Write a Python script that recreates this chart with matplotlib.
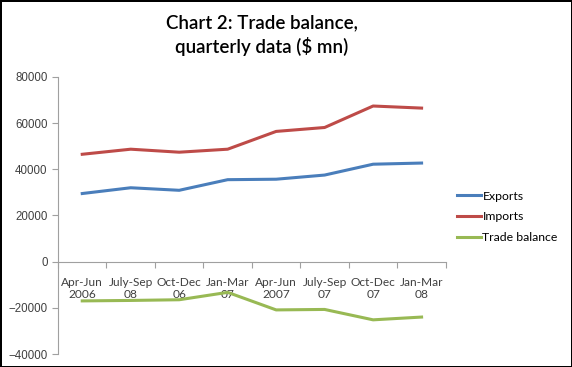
import matplotlib.pyplot as plt
import numpy as np

plt.rcParams["font.family"] = ["Lato", "DejaVu Sans"]

# 数据 (从图中读取, $ mn)
quarters = ["Apr-Jun\n2006", "July-Sep\n08", "Oct-Dec\n06", "Jan-Mar\n07",
            "Apr-Jun\n2007", "July-Sep\n07", "Oct-Dec\n07", "Jan-Mar\n08"]
exports = [29500, 32000, 30900, 35500, 35700, 37500, 42200, 42700]
imports = [46500, 48700, 47400, 48700, 56400, 58100, 67400, 66500]
trade_balance = [-17000, -16800, -16500, -13300, -20900, -20700, -25200, -24000]

fig = plt.figure(figsize=(5.72, 3.67), dpi=100)
fig.patch.set_edgecolor("black")
fig.patch.set_linewidth(2)

ax = fig.add_axes([0.1014, 0.0354, 0.678, 0.755])
x = np.arange(len(quarters))
ax.plot(x, exports, color="#4A7EBB", lw=2.2, label="Exports")
ax.plot(x, imports, color="#BE4B48", lw=2.2, label="Imports")
ax.plot(x, trade_balance, color="#98B954", lw=2.2, label="Trade balance")

ax.set_xlim(-0.5, len(quarters) - 0.5)
ax.set_ylim(-40000, 80000)
ax.set_yticks(range(-40000, 80001, 20000))

# ── 坐标轴样式 ──
for s in ["top", "right"]:
    ax.spines[s].set_visible(False)
ax.spines["bottom"].set_position(("data", 0))
ax.spines["bottom"].set_color("#A0A0A0")
ax.spines["left"].set_color("#A0A0A0")

ax.set_xticks(np.arange(-0.5, len(quarters)), labels=[])
ax.set_xticks(x, labels=quarters, minor=True)
ax.tick_params(axis="x", which="major", length=4, color="#A0A0A0")
ax.tick_params(axis="x", which="minor", length=0, pad=11, labelsize=8.6, labelcolor="#404040")
ax.tick_params(axis="y", length=4, color="#A0A0A0", labelsize=8.3, labelcolor="#404040")
for t in ax.get_yticklabels():
    t.set_family(["Liberation Sans", "DejaVu Sans"])
for t in ax.get_xticklabels(minor=True):
    t.set_linespacing(1.15)

fig.text(0.458, 0.96, "Chart 2: Trade balance,\nquarterly data ($ mn)", ha="center", va="top",
         fontsize=13.5, fontweight="semibold", linespacing=1.35)

ax.legend(loc="center left", bbox_to_anchor=(1.0, 0.495), frameon=False, fontsize=8.8,
          handlelength=2.0, handletextpad=0.1, labelspacing=0.8)

fig.savefig("out.png", dpi=100)
